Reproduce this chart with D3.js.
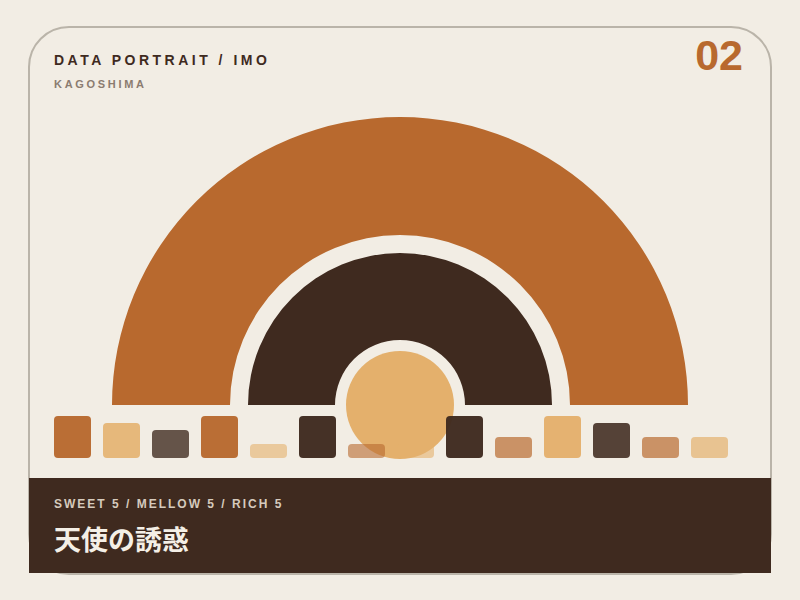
<!DOCTYPE html>
<html>
<head>
<meta charset="utf-8">
<script src="https://cdn.jsdelivr.net/npm/d3@7"></script>
<style>
  html, body { margin: 0; padding: 0; background: #f2ede4; }
  svg { display: block; }
</style>
</head>
<body>
<svg id="card" width="800" height="600"></svg>
<script>
// Flavour axes and scores (footer + rings)
const axes = ["SWEET", "MELLOW", "RICH"];
const scores = [5, 5, 5];
const maxScore = 5;

// Tasting notes strip along the baseline
const notes = [6, 5, 4, 6, 2, 6, 2, 2, 6, 3, 6, 5, 3, 3];

const title = "DATA PORTRAIT / IMO";
const region = "KAGOSHIMA";
const cardNo = "02";
const name = "天使の誘惑";

const palette = ["#b8692e", "#e4b06c", "#3f2a1f"];
const cream = "#f2ede4";

const width = 800, height = 600;
const svg = d3.select("#card");

// card outline
svg.append("rect")
    .attr("x", 29).attr("y", 27)
    .attr("width", 742).attr("height", 547)
    .attr("rx", 40)
    .attr("fill", cream)
    .attr("stroke", "#bab4a9")
    .attr("stroke-width", 2);

// header text
svg.append("text")
    .attr("x", 54).attr("y", 65)
    .attr("font-family", "Liberation Sans, Arial, sans-serif")
    .attr("font-weight", "bold")
    .attr("font-size", 14)
    .attr("letter-spacing", 3.5)
    .attr("fill", "#3f2a1f")
    .text(title);

svg.append("text")
    .attr("x", 54).attr("y", 88)
    .attr("font-family", "Liberation Sans, Arial, sans-serif")
    .attr("font-weight", "bold")
    .attr("font-size", 11)
    .attr("letter-spacing", 2.7)
    .attr("fill", "#8b7c70")
    .text(region);

svg.append("text")
    .attr("x", 743).attr("y", 70)
    .attr("text-anchor", "end")
    .attr("font-family", "Liberation Sans, Arial, sans-serif")
    .attr("font-weight", "bold")
    .attr("font-size", 43)
    .attr("fill", "#b8692e")
    .text(cardNo);

// rings
const cx = 400, cy = 405;
const ringRadii = [[170, 288], [65, 152]];
const angle = d3.scaleLinear().domain([0, maxScore]).range([-Math.PI / 2, Math.PI / 2]);

const rings = svg.append("g").attr("transform", `translate(${cx},${cy})`);

rings.selectAll(".ring")
  .data(ringRadii)
  .enter()
  .append("path")
    .classed("ring", true)
    .attr("fill", (d, i) => palette[i === 0 ? 0 : 2])
    .attr("d", (d, i) => d3.arc()
        .innerRadius(d[0])
        .outerRadius(d[1])
        .startAngle(-Math.PI / 2)
        .endAngle(angle(scores[i]))());

// core
const coreR = d3.scaleSqrt().domain([0, maxScore]).range([0, 54]);
rings.append("circle")
    .attr("r", coreR(scores[2]))
    .attr("fill", palette[1]);

// note strip
const x = d3.scaleBand()
    .domain(d3.range(notes.length))
    .range([54, 728])
    .paddingInner(12 / 49)
    .paddingOuter(0);

const y = d3.scaleLinear().domain([0, 6]).range([458, 416]);
const op = d3.scaleLinear().domain([2, 6]).range([0.6, 0.97]);

svg.append("g")
  .selectAll(".note")
  .data(notes)
  .enter()
  .append("rect")
    .classed("note", true)
    .attr("x", (d, i) => x(i))
    .attr("y", d => y(d))
    .attr("width", x.bandwidth())
    .attr("height", d => y(0) - y(d))
    .attr("rx", 4)
    .attr("fill", (d, i) => palette[i % 3])
    .attr("fill-opacity", d => op(d));

// footer band
svg.append("rect")
    .attr("x", 29).attr("y", 478)
    .attr("width", 742).attr("height", 95)
    .attr("fill", "#3f2a1f");

svg.append("text")
    .attr("x", 54).attr("y", 508)
    .attr("font-family", "Liberation Sans, Arial, sans-serif")
    .attr("font-weight", "bold")
    .attr("font-size", 12)
    .attr("letter-spacing", 2)
    .attr("fill", "#d6cabd")
    .text(axes.map((a, i) => `${a} ${scores[i]}`).join(" / "));

svg.append("text")
    .attr("x", 54).attr("y", 550)
    .attr("font-family", "Noto Sans CJK JP, sans-serif")
    .attr("font-weight", "bold")
    .attr("font-size", 27)
    .attr("fill", "#f4efe6")
    .text(name);
</script>
</body>
</html>
